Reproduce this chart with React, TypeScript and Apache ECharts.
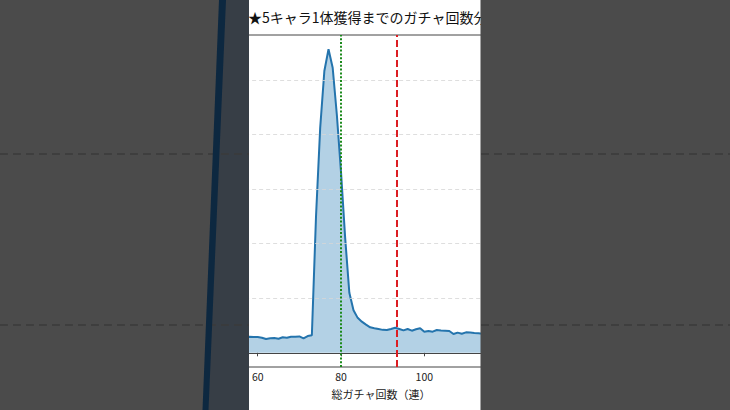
import React, { useEffect, useRef } from "react";
import * as echarts from "echarts";

// total pulls (x) and probability in % (y)
const pulls = [
  57, 58, 59, 60, 61, 62, 63, 64, 65, 66, 67, 68, 69, 70, 71, 72, 73, 74, 75, 76,
  77, 78, 79, 80, 81, 82, 83, 84, 85, 86, 87, 88, 89, 90, 91, 92, 93, 94, 95, 96,
  97, 98, 99, 100, 101, 102, 103, 104, 105, 106, 107, 108, 109, 110, 111, 112, 113, 114, 115,
];
const probability = [
  0.29, 0.295, 0.29, 0.29, 0.277, 0.253, 0.265, 0.27, 0.258, 0.284, 0.277, 0.295, 0.295, 0.3, 0.265, 0.307, 0.32, 2.5, 4.12, 5.16,
  5.56, 5.22, 4.36, 3.31, 2.1, 1.1, 0.78, 0.64, 0.57, 0.515, 0.467, 0.45, 0.436, 0.42, 0.418, 0.436, 0.46, 0.436, 0.41, 0.436,
  0.405, 0.43, 0.449, 0.387, 0.4, 0.387, 0.418, 0.41, 0.405, 0.4, 0.344, 0.37, 0.35, 0.375, 0.37, 0.363, 0.357, 0.35, 0.35,
];
const gridValues = [1, 2, 3, 4, 5];
const hardPity = 80;
const meanPulls = 93.5;
const titleText = "★5キャラ1体獲得までのガチャ回数分布";
const xAxisName = "総ガチャ回数（連）";

const FONT = '"Noto Sans CJK JP", "Noto Sans", sans-serif';

export default function App() {
  const ref = useRef<HTMLDivElement>(null);
  useEffect(() => {
    if (!ref.current) return;
    const chart = echarts.init(ref.current, undefined, { renderer: "svg" });
    const data = pulls.map((p, i) => [p, probability[i]]);
    const gray = "#4b4b4b";
    const option: any = {
      animation: false,
      backgroundColor: "#ffffff",
      grid: {
        left: 91.1,
        right: 59.1,
        top: 35,
        bottom: 43,
        show: true,
        borderColor: "#444",
        borderWidth: 1,
        backgroundColor: "transparent",
      },
      xAxis: {
        type: "value",
        min: 20,
        max: 159.2,
        interval: 20,
        name: xAxisName,
        nameLocation: "middle",
        nameGap: 21,
        nameTextStyle: { fontFamily: FONT, fontSize: 11, color: "#222" },
        axisLine: { show: true, lineStyle: { color: "#444", width: 1 } },
        axisTick: { show: true, inside: false, length: 3.5, lineStyle: { color: "#444" } },
        axisLabel: { fontFamily: FONT, fontSize: 10.5, color: "#222", margin: 4 },
        splitLine: { show: false },
      },
      yAxis: {
        type: "value",
        min: -0.26,
        max: 5.82,
        show: false,
        splitLine: { show: false },
      },
      series: [
        {
          type: "line",
          data,
          symbol: "none",
          smooth: false,
          lineStyle: { color: "#2474ad", width: 2 },
          areaStyle: { color: "#1f77b4", opacity: 0.34, origin: "auto" },
          z: 2,
          markLine: {
            silent: true,
            symbol: ["none", "none"],
            label: { show: false },
            data: [
              ...gridValues.map((v) => ({
                yAxis: v,
                lineStyle: { color: "#d6d6d6", type: [4, 3], width: 0.8 },
              })),
              { xAxis: hardPity, lineStyle: { color: "#1c8a1c", type: [2, 1.8], width: 2 } },
              { xAxis: meanPulls, lineStyle: { color: "#dc1d22", type: [7, 3], width: 2 } },
            ],
          },
        },
      ],
      graphic: [
        {
          type: "text",
          x: 248,
          y: 17,
          z: 50,
          style: {
            text: titleText,
            fontFamily: FONT,
            fontSize: 14,
            fill: "#111",
            textAlign: "left",
            textVerticalAlign: "middle",
          },
        },
        { type: "rect", z: 100, shape: { x: 0, y: 0, width: 249, height: 410 }, style: { fill: gray } },
        { type: "rect", z: 100, shape: { x: 480.5, y: 0, width: 250, height: 410 }, style: { fill: gray } },
        {
          type: "polygon",
          z: 101,
          shape: { points: [[225, 0], [249, 0], [249, 410], [208, 410]] },
          style: { fill: "#373e46" },
        },
        {
          type: "line",
          z: 102,
          shape: { x1: 0, y1: 154, x2: 249, y2: 154 },
          style: { stroke: "#3b3b3b", lineWidth: 1.5, lineDash: [8, 5] },
        },
        {
          type: "line",
          z: 102,
          shape: { x1: 0, y1: 325, x2: 249, y2: 325 },
          style: { stroke: "#3b3b3b", lineWidth: 1.5, lineDash: [8, 5] },
        },
        {
          type: "line",
          z: 102,
          shape: { x1: 481, y1: 154, x2: 730, y2: 154 },
          style: { stroke: "#3b3b3b", lineWidth: 1.5, lineDash: [8, 5] },
        },
        {
          type: "line",
          z: 102,
          shape: { x1: 481, y1: 325, x2: 730, y2: 325 },
          style: { stroke: "#3b3b3b", lineWidth: 1.5, lineDash: [8, 5] },
        },
        {
          type: "polygon",
          z: 103,
          shape: { points: [[219, 0], [226, 0], [208.5, 410], [202.5, 410]] },
          style: { fill: "#0d2840" },
        },
      ],
    };
    chart.setOption(option);
    return () => chart.dispose();
  }, []);
  return (
    <div
      ref={ref}
      style={{ position: "fixed", left: 0, top: 0, width: 730, height: 410 }}
    />
  );
}
